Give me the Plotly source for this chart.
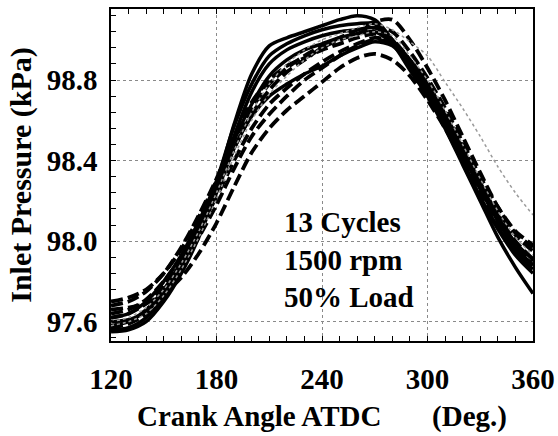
import plotly.graph_objects as go

crank_angle = [120, 130, 140, 150, 160, 170, 180, 190, 200, 210, 220, 230, 240,
               250, 260, 270, 280, 290, 300, 310, 320, 330, 340, 350, 360]

# solid cycles
cyc_s1 = [97.56, 97.57, 97.62, 97.72, 97.86, 98.05, 98.28, 98.58, 98.83, 98.97, 99.01, 99.04, 99.07,
          99.10, 99.12, 99.10, 99.00, 98.86, 98.72, 98.56, 98.38, 98.20, 98.02, 97.87, 97.74]
cyc_s2 = [97.58, 97.60, 97.66, 97.76, 97.90, 98.08, 98.30, 98.57, 98.78, 98.92, 98.98, 99.02, 99.05,
          99.07, 99.08, 99.08, 98.99, 98.86, 98.74, 98.58, 98.40, 98.22, 98.07, 97.95, 97.86]
cyc_s3 = [97.55, 97.56, 97.60, 97.70, 97.84, 98.02, 98.25, 98.52, 98.74, 98.88, 98.95, 98.99, 99.02,
          99.04, 99.05, 99.06, 99.00, 98.88, 98.77, 98.62, 98.44, 98.26, 98.10, 97.97, 97.88]
cyc_s4 = [97.62, 97.64, 97.70, 97.80, 97.93, 98.10, 98.29, 98.50, 98.68, 98.82, 98.90, 98.95, 98.98,
          99.01, 99.03, 99.04, 98.98, 98.85, 98.72, 98.57, 98.39, 98.21, 98.06, 97.93, 97.84]
cyc_s5 = [97.60, 97.61, 97.65, 97.74, 97.87, 98.04, 98.24, 98.46, 98.62, 98.72, 98.78, 98.83, 98.87,
          98.92, 98.96, 98.99, 98.97, 98.88, 98.76, 98.60, 98.43, 98.26, 98.11, 97.99, 97.91]
# dashed cycles
cyc_d1 = [97.70, 97.72, 97.76, 97.84, 97.96, 98.12, 98.30, 98.50, 98.66, 98.78, 98.86, 98.92, 98.97,
          99.01, 99.05, 99.09, 99.10, 99.00, 98.86, 98.70, 98.52, 98.34, 98.17, 98.04, 97.97]
cyc_d2 = [97.66, 97.67, 97.69, 97.74, 97.82, 97.94, 98.09, 98.27, 98.44, 98.56, 98.65, 98.72, 98.79,
          98.86, 98.91, 98.93, 98.90, 98.82, 98.70, 98.56, 98.40, 98.24, 98.09, 97.97, 97.88]
cyc_d3 = [97.64, 97.66, 97.71, 97.80, 97.92, 98.06, 98.22, 98.40, 98.56, 98.68, 98.76, 98.83, 98.89,
          98.94, 98.98, 99.01, 98.99, 98.90, 98.78, 98.63, 98.46, 98.29, 98.13, 98.00, 97.91]
cyc_d4 = [97.68, 97.70, 97.75, 97.84, 97.97, 98.13, 98.31, 98.52, 98.69, 98.80, 98.87, 98.91, 98.95,
          98.98, 99.01, 99.03, 99.00, 98.90, 98.79, 98.64, 98.47, 98.30, 98.15, 98.03, 97.95]
cyc_d5 = [97.57, 97.59, 97.64, 97.74, 97.87, 98.02, 98.18, 98.36, 98.52, 98.63, 98.72, 98.80, 98.86,
          98.92, 98.97, 99.00, 98.98, 98.89, 98.76, 98.61, 98.44, 98.27, 98.12, 97.99, 97.90]
cyc_d6 = [97.62, 97.64, 97.69, 97.78, 97.91, 98.07, 98.26, 98.46, 98.63, 98.75, 98.84, 98.90, 98.96,
          99.00, 99.03, 99.06, 99.04, 98.94, 98.81, 98.66, 98.49, 98.32, 98.17, 98.05, 97.98]
# dotted grey cycles
cyc_g1 = [97.60, 97.62, 97.67, 97.76, 97.89, 98.05, 98.24, 98.45, 98.64, 98.78, 98.88, 98.95, 99.00,
          99.03, 99.06, 99.08, 99.05, 98.99, 98.92, 98.79, 98.66, 98.52, 98.37, 98.24, 98.13]
cyc_g2 = [97.58, 97.60, 97.64, 97.73, 97.86, 98.02, 98.21, 98.42, 98.60, 98.73, 98.82, 98.90, 98.96,
          99.00, 99.02, 99.04, 99.02, 98.92, 98.80, 98.65, 98.48, 98.31, 98.15, 98.02, 97.93]

solid_cycles = [cyc_s1, cyc_s2, cyc_s3, cyc_s4, cyc_s5]
dashed_cycles = [cyc_d1, cyc_d2, cyc_d3, cyc_d4, cyc_d5, cyc_d6]
dotted_cycles = [cyc_g1, cyc_g2]

x_ticks = [120, 180, 240, 300, 360]
y_ticks = [97.6, 98.0, 98.4, 98.8]
y_ticklabels = ["97.6", "98.0", "98.4", "98.8"]
note_lines = ["13 Cycles", "1500 rpm", "50% Load"]

FONT = "Liberation Serif, Times New Roman, serif"

fig = go.Figure()
for c in dashed_cycles:
    fig.add_trace(go.Scatter(x=crank_angle, y=c, mode="lines",
                             line=dict(color="black", width=3.8, dash="12px,5px", shape="spline", smoothing=0.8),
                             showlegend=False, hoverinfo="skip"))
for c in solid_cycles:
    fig.add_trace(go.Scatter(x=crank_angle, y=c, mode="lines",
                             line=dict(color="black", width=3.5, shape="spline", smoothing=0.8),
                             showlegend=False, hoverinfo="skip"))
for c in dotted_cycles:
    fig.add_trace(go.Scatter(x=crank_angle, y=c, mode="lines",
                             line=dict(color="#9a9a9a", width=1.5, dash="dot", shape="spline", smoothing=0.8),
                             showlegend=False, hoverinfo="skip"))

fig.add_annotation(x=217.0, y=98.185, xref="x", yref="y", xanchor="left", yanchor="top",
                   align="left", showarrow=False, text="<br>".join(note_lines),
                   font=dict(family=FONT, size=29, color="black", weight="bold"))

fig.update_layout(
    template="none",
    width=558, height=436,
    margin=dict(l=111, r=25, t=9, b=95, autoexpand=False),
    paper_bgcolor="white", plot_bgcolor="white",
    font=dict(family=FONT, size=29, color="black", weight="bold"),
    showlegend=False,
)
fig.update_xaxes(
    automargin=False,
    range=[120, 360], tickmode="array", tickvals=x_ticks, ticktext=[str(v) for v in x_ticks],
    ticks="inside", ticklen=5, tickwidth=1, tickcolor="black",
    minor=dict(dtick=10, tick0=120, ticks="inside", ticklen=5, tickcolor="black", showgrid=False),
    showline=True, linecolor="black", linewidth=1.5, mirror="ticks",
    showgrid=True, gridcolor="#8a8a8a", griddash="dot", gridwidth=1,
    zeroline=False, ticklabelstandoff=11,
    title=dict(text="Crank Angle ATDC \u00a0\u00a0\u00a0\u00a0\u00a0\u00a0(Deg.)", standoff=12,
               font=dict(family=FONT, size=29, weight="bold")),
)
fig.update_yaxes(
    automargin=False,
    range=[97.504, 99.153], tickmode="array", tickvals=y_ticks, ticktext=y_ticklabels,
    ticks="inside", ticklen=5, tickwidth=1, tickcolor="black",
    minor=dict(dtick=0.08, tick0=97.6, ticks="inside", ticklen=5, tickcolor="black", showgrid=False),
    showline=True, linecolor="black", linewidth=1.5, mirror=True,
    showgrid=True, gridcolor="#8a8a8a", griddash="dot", gridwidth=1,
    zeroline=False, ticklabelstandoff=6,
    title=dict(text="Inlet Pressure (kPa)", standoff=6,
               font=dict(family=FONT, size=30, weight="bold")),
)

# remove the browser's default page margin / scrollbars so the 558x436 figure fills the window exactly
fig.write_html("out.html", config={"displayModeBar": False},
               post_script="document.body.style.margin='0';document.body.style.overflow='hidden';")
